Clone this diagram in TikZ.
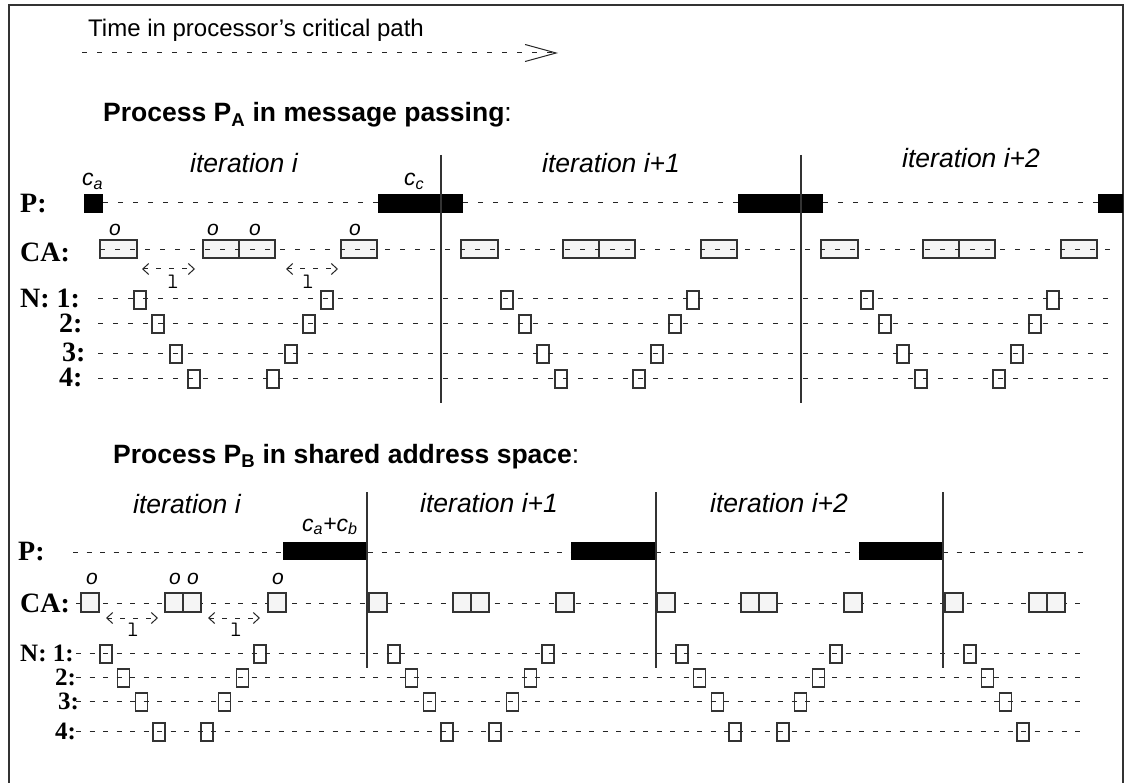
\documentclass[tikz,border=0pt]{standalone}
\usepackage{fontspec}
\setmainfont{Liberation Serif}
\setsansfont{Liberation Sans}
\usetikzlibrary{arrows.meta}
\begin{document}
\begin{tikzpicture}[x=1pt,y=-1pt,
  dl/.style={line width=1pt, black!85, dash pattern=on 5pt off 10pt},
  dlb/.style={line width=1pt, black!85, dash pattern=on 5pt off 8.5pt},
  pbar/.style={fill=black},
  cabox/.style={draw=black!80, fill=black!4, line width=1.3pt},
  nbox/.style={draw=black!80, line width=1.3pt},
  vsep/.style={line width=1.5pt, black!80},
  rowlbl/.style={font=\fontsize{28}{28}\selectfont\rmfamily\bfseries, anchor=west, inner sep=0pt},
  rowlbs/.style={font=\fontsize{25}{25}\selectfont\rmfamily\bfseries, anchor=west, inner sep=0pt},
  itlbl/.style={font=\fontsize{26.5}{26.5}\selectfont\sffamily\itshape, anchor=base west, inner sep=0pt},
  hdr/.style={font=\fontsize{26.5}{26.5}\selectfont\sffamily\bfseries, anchor=base west, inner sep=0pt},
  clbl/.style={font=\fontsize{23}{23}\selectfont\sffamily\itshape, anchor=base west, inner sep=0pt},
  olbl/.style={font=\fontsize{21}{21}\selectfont\sffamily\itshape, inner sep=0pt},
  llbl/.style={font=\fontsize{22}{22}\selectfont\ttfamily, inner sep=0pt},
  lat/.style={line width=1pt, black!85, dash pattern=on 5pt off 8pt,
    {Straight Barb[length=6pt,width=11pt]}-{Straight Barb[length=6pt,width=11pt]}},
]
\useasboundingbox (0,0) rectangle (1126,783);
\fill[white] (0,0) rectangle (1126,783);
% frame
\draw[line width=1.5pt, black!80] (9,783) -- (9,5) -- (1123,5) -- (1123,783);

% ---------- time arrow ----------
\node[font=\fontsize{24}{24}\selectfont\sffamily, anchor=base west, inner sep=0pt] (time) at (88,37) {Time in processor's critical path};
\coordinate (ts) at (82,53);
\coordinate (te) at (558,53);
\draw[line width=1pt, black!85, dash pattern=on 5pt off 10pt, -{Straight Barb[length=31pt,width=17pt]}] (ts) -- (te);

% ========== Process P_A ==========
\node[hdr] (ha) at (103,122) {Process P\textsubscript{A} in message passing\textmd{:}};
\node[itlbl] (ia0) at (190,173) {iteration i};
\node[itlbl] (ia1) at (542,173) {iteration i+1};
\node[itlbl] (ia2) at (902,168) {iteration i+2};

\node[rowlbl] (ap) at (20,204) {P:};
\node[rowlbl] (aca) at (20,252) {CA:};
\node[rowlbl] (an1) at (20,298) {N: 1:};
\node[rowlbl] (an2) at (59,323) {2:};
\node[rowlbl] (an3) at (62,352) {3:};
\node[rowlbl] (an4) at (59,377) {4:};

% P row
\draw[dl] (103,203) -- (378,203);
\draw[dl] (463,203) -- (738,203);
\draw[dl] (823,203) -- (1098,203);
\fill[pbar] (84,194) rectangle (103,213);
\foreach \b in {378,738,1098} \fill[pbar] (\b,194) rectangle ({min(\b+85,1123)},213);
\node[clbl] (lca) at (82,186) {c\textsubscript{a}};
\node[clbl] (lcc) at (404,186) {c\textsubscript{c}};

% CA row
\foreach \b in {100,461,821} \draw[cabox] (\b,240) rectangle +(37,18);
\foreach \b in {203,563,923} {\draw[cabox] (\b,240) rectangle +(36,18); \draw[cabox] ({\b+36},240) rectangle +(36,18);}
\foreach \b in {341,701,1061} \draw[cabox] (\b,240) rectangle +(36,18);
\draw[dl] (100,250) -- (1113,250);
\node[olbl] (o1) at (115,230) {o};
\node[olbl] (o2) at (213,230) {o};
\node[olbl] (o3) at (255,230) {o};
\node[olbl] (o4) at (355,230) {o};
\coordinate (la1s) at (142,269); \coordinate (la1e) at (195,269);
\coordinate (la2s) at (286,269); \coordinate (la2e) at (338,269);
\draw[lat] (la1s) -- (la1e);
\draw[lat] (la2s) -- (la2e);
\node[llbl] (l1) at (173,282) {l};
\node[llbl] (l2) at (308,282) {l};

% N rows
\foreach \y [count=\k from 0] in {299,323,353,378} {
  \foreach \b in {134,501,861} \draw[nbox] ({\b+18*\k},{\y-8}) rectangle +(12,18);
  \foreach \b in {321,687,1047} \draw[nbox] ({\b-18*\k},{\y-8}) rectangle +(12,18);
  \draw[dl] (98,\y) -- (1108,\y);
}
\draw[vsep] (441,155) -- (441,403);
\draw[vsep] (801,155) -- (801,403);

% ========== Process P_B ==========
\node[hdr] (hb) at (113,463) {Process P\textsubscript{B} in shared address space\textmd{:}};
\node[itlbl] (ib0) at (133,513) {iteration i};
\node[itlbl] (ib1) at (420,512) {iteration i+1};
\node[itlbl] (ib2) at (710,512) {iteration i+2};

\node[rowlbl] (bp) at (18,552) {P:};
\node[rowlbl] (bca) at (20,603) {CA:};
\node[rowlbs] (bn1) at (20,653) {N: 1:};
\node[rowlbs] (bn2) at (55,677) {2:};
\node[rowlbs] (bn3) at (58,701) {3:};
\node[rowlbs] (bn4) at (55,731) {4:};

% P row
\draw[dlb] (73,552) -- (283,552);
\draw[dlb] (368,552) -- (571,552);
\draw[dlb] (656,552) -- (859,552);
\draw[dlb] (943,552) -- (1083,552);
\foreach \b in {283,571,859} \fill[pbar] (\b,542) rectangle +(85,18);
\node[clbl] (lcab) at (302,531) {c\textsubscript{a}+c\textsubscript{b}};

% CA row
\draw[dlb] (76,603) -- (1083,603);
\foreach \b in {81,369,657,945} \draw[cabox] (\b,593) rectangle +(18,19);
\foreach \b in {165,453,741,1029} {\draw[cabox] (\b,593) rectangle +(18,19); \draw[cabox] ({\b+18},593) rectangle +(18,19);}
\foreach \b in {268,556,844} \draw[cabox] (\b,593) rectangle +(18,19);
\node[olbl] (ob1) at (92,579) {o};
\node[olbl] (ob2) at (175,579) {o};
\node[olbl] (ob3) at (193,579) {o};
\node[olbl] (ob4) at (278,579) {o};
\coordinate (lb1s) at (106,618); \coordinate (lb1e) at (158,618);
\coordinate (lb2s) at (208,618); \coordinate (lb2e) at (260,618);
\draw[lat] (lb1s) -- (lb1e);
\draw[lat] (lb2s) -- (lb2e);
\node[llbl] (lb1) at (133,630) {l};
\node[llbl] (lb2) at (236,630) {l};

% N rows
\foreach \y [count=\k from 0] in {653,677,701,731} {
  \foreach \b in {100,388,676,964} \draw[nbox] ({\b+17.7*\k},{\y-8}) rectangle +(12,18);
  \foreach \b in {254,542,830} \draw[nbox] ({\b-17.7*\k},{\y-8}) rectangle +(12,18);
  \draw[dlb] (76,\y) -- (1083,\y);
}
\draw[vsep] (367,492) -- (367,668);
\draw[vsep] (656,492) -- (656,668);
\draw[vsep] (943,492) -- (943,668);
\end{tikzpicture}
\end{document}
